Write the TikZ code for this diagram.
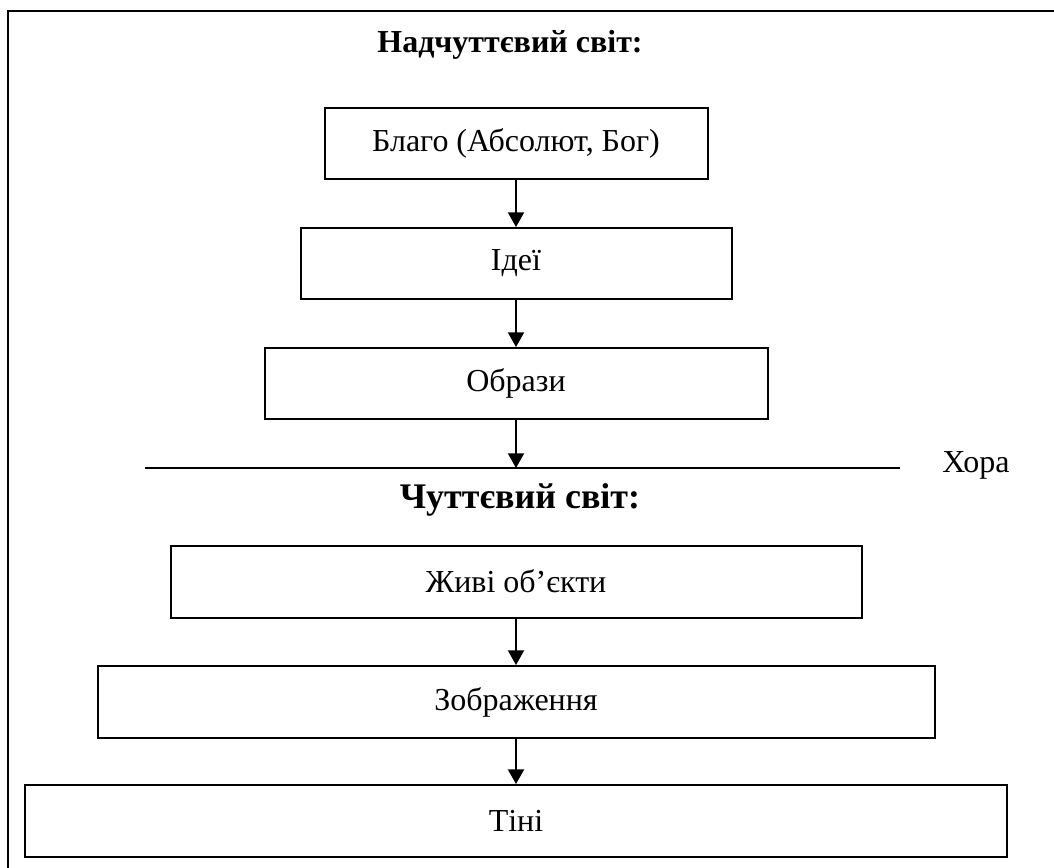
\documentclass[tikz,border=0pt]{standalone}
\usepackage{fontspec}
\setmainfont{Liberation Serif}
\usetikzlibrary{arrows.meta}
\begin{document}
\begin{tikzpicture}[x=0.75pt,y=-0.75pt,
  stagebox/.style={draw,line width=1.5pt,rectangle,inner sep=0pt,font=\fontsize{24}{28}\selectfont},
  flow/.style={line width=1.5pt,-{Triangle[width=12pt,length=11pt]}},
  heading/.style={anchor=base,inner sep=0pt,font=\bfseries\fontsize{24}{28}\selectfont}]
\useasboundingbox (0,0) rectangle (1054,868);
\clip (0,0) rectangle (1054,868);
\draw[line width=1.5pt] (8,11) rectangle (1070,890);

\node[heading] (top) at (510,52) {Надчуттєвий світ:};
\node[stagebox,minimum width=287.25pt,minimum height=53.25pt] (blago) at (516,143.5) {Благо (Абсолют, Бог)};
\node[stagebox,minimum width=323.25pt,minimum height=53.25pt] (idei) at (516,263.5) {Ідеї};
\node[stagebox,minimum width=377.25pt,minimum height=53.25pt] (obrazy) at (516,383.5) {Образи};

\coordinate (sepL) at (145,468);
\coordinate (sepR) at (900,468);
\draw[line width=1.5pt] (sepL) -- (sepR);
\coordinate (sepM) at (obrazy.south |- sepL);
\node[anchor=base west,inner sep=0pt,font=\fontsize{24}{28}\selectfont] (khora) at (942,472) {Хора};

\node[heading,font=\bfseries\fontsize{27}{31}\selectfont] (bottom) at (520,508) {Чуттєвий світ:};
\node[stagebox,minimum width=518.25pt,minimum height=54pt] (zhyvi) at (516,581.5) {Живі об’єкти};
\node[stagebox,minimum width=627.75pt,minimum height=54pt] (zobr) at (516,702) {Зображення};
\node[stagebox,minimum width=736.5pt,minimum height=54pt] (tini) at (516,821) {Тіні};

\draw[flow] (blago.south) -- (idei.north);
\draw[flow] (idei.south) -- (obrazy.north);
\draw[flow] (obrazy.south) -- (sepM);
\draw[flow] (zhyvi.south) -- (zobr.north);
\draw[flow] (zobr.south) -- (tini.north);
\end{tikzpicture}
\end{document}
